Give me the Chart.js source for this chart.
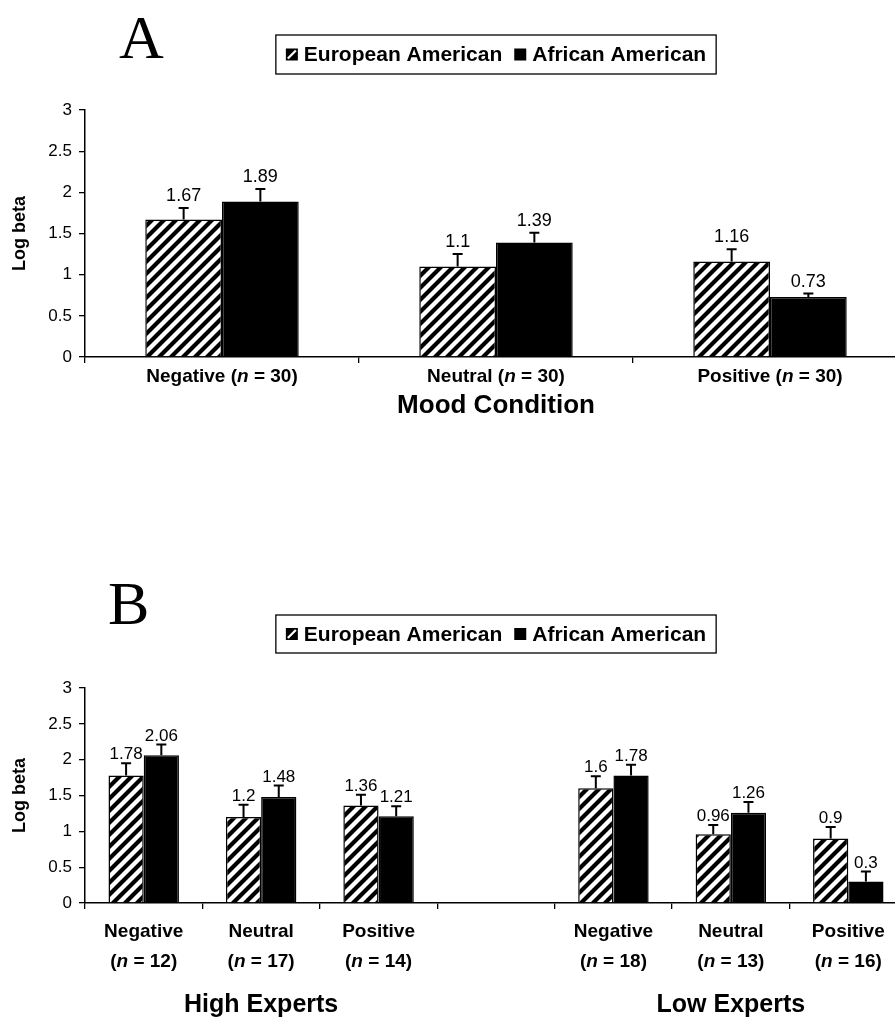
<!DOCTYPE html>
<html>
<head>
<meta charset="utf-8">
<script src="https://cdn.jsdelivr.net/npm/chart.js@4.4.1/dist/chart.umd.min.js"></script>
<style>
  html, body { margin: 0; padding: 0; background: #fff; overflow: hidden; }
  #page { position: relative; width: 895px; height: 1021px; overflow: hidden; }
  canvas { position: absolute; left: 0; }
  #chartA { top: 0; }
  #chartB { top: 560px; }
</style>
</head>
<body>
<div id="page">
  <canvas id="chartA" width="907" height="440"></canvas>
  <canvas id="chartB" width="907" height="461"></canvas>
</div>
<script>
// Panel A - mood condition
const moodCats = ["Negative", "Neutral", "Positive"];
const moodN = [30, 30, 30];
const euroA = [1.67, 1.1, 1.16];
const afroA = [1.89, 1.39, 0.73];
const euroErrA = [0.14, 0.15, 0.15];
const afroErrA = [0.15, 0.12, 0.04];

// Panel B - expertise x mood, empty slot between the two groups
const expertCats = ["Negative", "Neutral", "Positive", "", "Negative", "Neutral", "Positive"];
const expertN = [12, 17, 14, null, 18, 13, 16];
const euroB = [1.78, 1.2, 1.36, null, 1.6, 0.96, 0.9];
const afroB = [2.06, 1.48, 1.21, null, 1.78, 1.26, 0.3];
const euroErrB = [0.17, 0.17, 0.15, null, 0.17, 0.13, 0.16];
const afroErrB = [0.15, 0.16, 0.14, null, 0.15, 0.15, 0.14];
const expertGroups = ["High Experts", "Low Experts"];

const seriesNames = ["European American", "African American"];
const yMax = 3;
const yStep = 0.5;

const SANS = "'Liberation Sans', Arial, Helvetica, sans-serif";
const SERIF = "'Liberation Serif', 'Times New Roman', serif";

// diagonal hatch fill
function makeHatch() {
  const s = 12;
  const c = document.createElement("canvas");
  c.width = s; c.height = s;
  const p = c.getContext("2d");
  p.fillStyle = "#fff";
  p.fillRect(0, 0, s, s);
  p.strokeStyle = "#000";
  p.lineWidth = 4.2;
  p.beginPath();
  p.moveTo(0, s); p.lineTo(s, 0);
  p.moveTo(-s / 2, s / 2); p.lineTo(s / 2, -s / 2);
  p.moveTo(s / 2, s * 1.5); p.lineTo(s * 1.5, s / 2);
  p.stroke();
  return p.createPattern(c, "repeat");
}
const hatch = makeHatch();

// error bars (upper half only) + value labels
const errorBars = {
  id: "errorBars",
  afterDatasetsDraw(chart, args, opts) {
    const ctx = chart.ctx;
    const y = chart.scales.y;
    chart.data.datasets.forEach((ds, i) => {
      chart.getDatasetMeta(i).data.forEach((bar, j) => {
        const v = ds.data[j];
        if (v == null) return;
        const top = y.getPixelForValue(v + ds.errors[j]);
        ctx.save();
        ctx.strokeStyle = "#000";
        ctx.lineWidth = 2;
        ctx.beginPath();
        ctx.moveTo(bar.x, bar.y);
        ctx.lineTo(bar.x, top);
        ctx.moveTo(bar.x - opts.cap / 2, top);
        ctx.lineTo(bar.x + opts.cap / 2, top);
        ctx.stroke();
        ctx.fillStyle = "#000";
        ctx.font = opts.labelSize + "px " + SANS;
        ctx.textAlign = "center";
        ctx.textBaseline = "bottom";
        ctx.fillText(String(v), bar.x, top - opts.gap);
        ctx.restore();
      });
    });
  }
};

// text with an italic "n"
function drawMixed(ctx, parts, cx, cy, size) {
  const f = (it) => (it ? "italic " : "") + "bold " + size + "px " + SANS;
  let w = 0;
  parts.forEach(p => { ctx.font = f(p[1]); w += ctx.measureText(p[0]).width; });
  let x = cx - w / 2;
  ctx.textAlign = "left";
  ctx.textBaseline = "middle";
  parts.forEach(p => {
    ctx.font = f(p[1]);
    ctx.fillText(p[0], x, cy);
    x += ctx.measureText(p[0]).width;
  });
}

// boxed legend, panel letter, category labels
const decor = {
  id: "decor",
  afterDraw(chart, args, opts) {
    const ctx = chart.ctx;
    const area = chart.chartArea;
    const xs = chart.scales.x;
    ctx.save();
    ctx.fillStyle = "#000";

    // panel letter
    ctx.font = opts.letterSize + "px " + SERIF;
    ctx.textAlign = "left";
    ctx.textBaseline = "alphabetic";
    ctx.fillText(opts.letter, opts.letterX, opts.letterY);

    // legend
    ctx.font = "bold " + opts.legendSize + "px " + SANS;
    const sw = 12, gap = 6, between = 12, pad = 10;
    const items = chart.data.datasets.map(ds => ({
      label: ds.label, fill: ds.backgroundColor, w: ctx.measureText(ds.label).width
    }));
    const total = pad * 2 + items.reduce((s, it) => s + sw + gap + it.w, 0) + between * (items.length - 1);
    const lx = (area.left + area.right) / 2 - total / 2;
    ctx.strokeStyle = "#000";
    ctx.lineWidth = 1.3;
    ctx.strokeRect(lx, opts.legendTop, total, opts.legendHeight);
    const cy = opts.legendTop + opts.legendHeight / 2;
    let cx = lx + pad;
    items.forEach(it => {
      ctx.fillStyle = "#000";
      ctx.fillRect(cx, cy - sw / 2, sw, sw);
      if (it.fill !== "#000") {
        // hatched swatch: black square cut by a white diagonal
        ctx.save();
        ctx.strokeStyle = "#fff";
        ctx.lineWidth = 2.2;
        ctx.beginPath();
        ctx.moveTo(cx + 2, cy + sw / 2 - 2);
        ctx.lineTo(cx + sw - 2, cy - sw / 2 + 2);
        ctx.stroke();
        ctx.restore();
      }
      cx += sw + gap;
      ctx.fillStyle = "#000";
      ctx.textAlign = "left";
      ctx.textBaseline = "middle";
      ctx.fillText(it.label, cx, cy + 1);
      cx += it.w + between;
    });

    // category labels
    const cats = chart.data.labels;
    cats.forEach((c, i) => {
      if (!c) return;
      const x = xs.getPixelForValue(i);
      const n = opts.nValues[i];
      if (opts.twoLines) {
        drawMixed(ctx, [[c, false]], x, opts.catY, opts.catSize);
        drawMixed(ctx, [["(", false], ["n", true], [" = " + n + ")", false]], x, opts.catY2, opts.catSize);
      } else {
        drawMixed(ctx, [[c + " (", false], ["n", true], [" = " + n + ")", false]], x, opts.catY, opts.catSize);
      }
    });

    // group titles under the category labels (panel B)
    if (opts.groups) {
      let start = 0, g = 0;
      for (let i = 0; i <= cats.length; i++) {
        if (i === cats.length || !cats[i]) {
          if (i > start && g < opts.groups.length) {
            const x = (xs.getPixelForValue(start) + xs.getPixelForValue(i - 1)) / 2;
            drawMixed(ctx, [[opts.groups[g], false]], x, opts.groupY, opts.groupSize);
            g++;
          }
          start = i + 1;
        }
      }
    }
    ctx.restore();
  }
};

function makeChart(id, cats, euro, afro, euroErr, afroErr, o) {
  return new Chart(document.getElementById(id), {
    type: "bar",
    data: {
      labels: cats,
      datasets: [
        { label: seriesNames[0], data: euro, errors: euroErr, backgroundColor: hatch,
          borderColor: "#000", borderWidth: 1.5, barPercentage: 1, categoryPercentage: o.catPct },
        { label: seriesNames[1], data: afro, errors: afroErr, backgroundColor: "#000",
          borderColor: "#000", borderWidth: 1.5, barPercentage: 1, categoryPercentage: o.catPct }
      ]
    },
    options: {
      responsive: false,
      animation: false,
      layout: { padding: { top: o.areaTop, left: 0, right: 0, bottom: 0 } },
      plugins: {
        legend: { display: false },
        tooltip: { enabled: false },
        errorBars: { cap: 10, labelSize: o.valSize, gap: o.valGap },
        decor: o.decor
      },
      scales: {
        x: {
          ticks: { display: false },
          grid: { display: true, drawOnChartArea: false, drawTicks: true, tickLength: 6,
                  color: "#000", lineWidth: 1.3, offset: true },
          border: { display: true, color: "#000", width: 1.5 },
          title: o.xTitle ? { display: true, text: o.xTitle, color: "#000",
                   font: { family: SANS, size: 26, weight: "bold" }, padding: { top: 0, bottom: 19 } }
                 : { display: false },
          afterFit(s) { s.height = o.xHeight; }
        },
        y: {
          min: 0, max: yMax,
          ticks: { stepSize: yStep, color: "#000", font: { family: SANS, size: 17 }, padding: 7,
                   callback: v => String(v) },
          grid: { drawOnChartArea: false, drawTicks: true, tickLength: 6, color: "#000", lineWidth: 1.3 },
          border: { display: true, color: "#000", width: 1.5 },
          title: { display: true, text: "Log beta", color: "#000",
                   font: { family: SANS, size: 18, weight: "bold" }, padding: { top: 9, bottom: 0 } },
          afterFit(s) { s.width = 85; }
        }
      }
    },
    plugins: [errorBars, decor]
  });
}

makeChart("chartA", moodCats, euroA, afroA, euroErrA, afroErrA, {
  catPct: 0.56, areaTop: 110, xHeight: 83, valSize: 18, valGap: 3, xTitle: "Mood Condition",
  decor: { letter: "A", letterSize: 62, letterX: 119, letterY: 58,
           legendSize: 21, legendTop: 35, legendHeight: 39,
           nValues: moodN, twoLines: false, catY: 377, catSize: 19 }
});

makeChart("chartB", expertCats, euroB, afroB, euroErrB, afroErrB, {
  catPct: 0.6, areaTop: 128, xHeight: 118, valSize: 17, valGap: 0, xTitle: null,
  decor: { letter: "B", letterSize: 62, letterX: 108, letterY: 64,
           legendSize: 21, legendTop: 55, legendHeight: 38,
           nValues: expertN, twoLines: true, catY: 372, catY2: 402, catSize: 19,
           groups: expertGroups, groupY: 445, groupSize: 25 }
});
</script>
</body>
</html>
